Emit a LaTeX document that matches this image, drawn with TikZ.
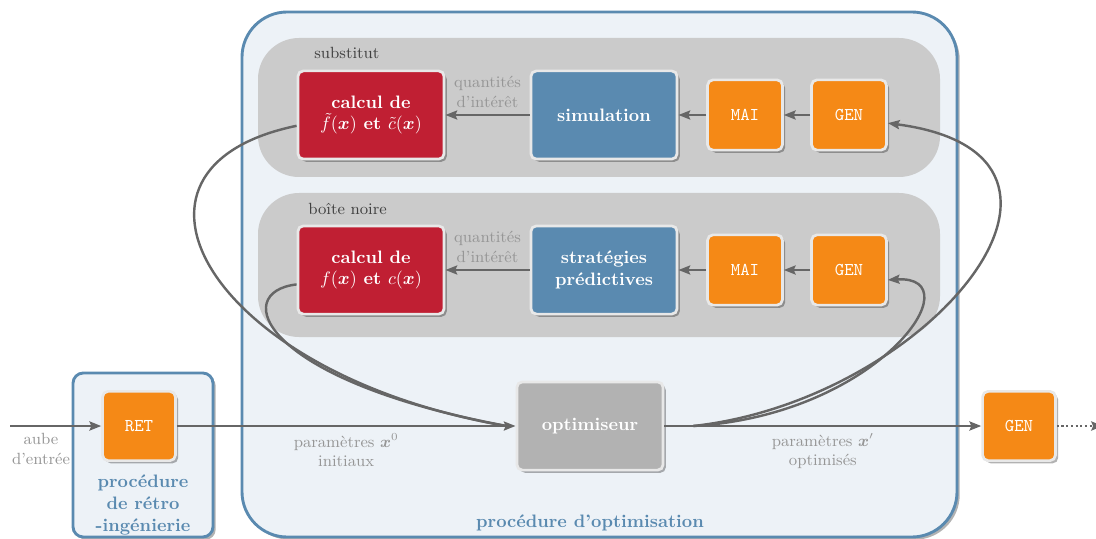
\documentclass[tikz,border=0pt]{standalone}
\usepackage{bm}
\usetikzlibrary{arrows.meta,shadows}

\definecolor{rouge}{RGB}{192,31,51}
\definecolor{bleu}{RGB}{90,138,176}
\definecolor{orangeb}{RGB}{245,137,22}
\definecolor{optgris}{RGB}{178,178,178}
\definecolor{panelgris}{RGB}{203,203,203}
\definecolor{fondbleu}{RGB}{237,242,247}
\definecolor{flgris}{RGB}{102,102,102}
\definecolor{lblgris}{RGB}{150,150,150}

\begin{document}
\begin{tikzpicture}[
x=0.0195cm, y=-0.0195cm,
>={Stealth[length=6.5pt,width=5pt,inset=1pt]},
thing/.style={rectangle,rounded corners=3pt,draw=black!9,line width=1.5pt,
  text=white,font=\bfseries,align=center,
  minimum width=2.85cm,minimum height=1.72cm,
  drop shadow={shadow xshift=1.5pt,shadow yshift=-1.5pt,fill=black,opacity=.3}},
small/.style={thing,font=\ttfamily,minimum width=1.46cm,minimum height=1.37cm},
line/.style={draw,color=flgris,line width=1.35pt,->},
curve/.style={draw,color=flgris,line width=1.35pt},
lbl/.style={text=lblgris,font=\small,align=center},
panel/.style={fill=panelgris,rounded corners=0.8cm},
frame/.style={draw=bleu,fill=fondbleu,line width=1.6pt,
  drop shadow={shadow xshift=1.5pt,shadow yshift=-1.5pt,fill=black,opacity=.3}},
titre/.style={text=bleu,font=\bfseries,align=center}
]
\useasboundingbox (0,0) rectangle (1096,539);

% cadres
\path[frame,rounded corners=0.88cm] (242,12) rectangle (957,537);
\path[frame,rounded corners=0.2cm] (73,373) rectangle (213,537);
\path[panel] (258,38) rectangle (940,177);
\path[panel] (258,193) rectangle (940,337);

\node[anchor=west,font=\small,text=black!75] (l1) at (308,53) {substitut};
\node[anchor=west,font=\small,text=black!75] (l2) at (302,209) {boîte noire};

% substitut
\node[thing,fill=rouge] (s1) at (371,115) {calcul de\\$\tilde{f}(\bm{x})$ et $\tilde{c}(\bm{x})$};
\node[thing,fill=bleu] (s2) at (604,115) {simulation};
\node[small,fill=orangeb] (s3) at (745,115) {MAI};
\node[small,fill=orangeb] (s4) at (849,115) {GEN};

% boite noire
\node[thing,fill=rouge] (b1) at (371,270) {calcul de\\$f(\bm{x})$ et $c(\bm{x})$};
\node[thing,fill=bleu] (b2) at (604,270) {stratégies\\prédictives};
\node[small,fill=orangeb] (b3) at (745,270) {MAI};
\node[small,fill=orangeb] (b4) at (849,270) {GEN};

% chaine principale
\node[small,fill=orangeb,minimum width=1.42cm,minimum height=1.35cm] (ret) at (139,426) {RET};
\node[thing,fill=optgris] (opt) at (590,426) {optimiseur};
\node[small,fill=orangeb,minimum width=1.42cm,minimum height=1.35cm] (gen) at (1019,426) {GEN};

\coordinate (in) at (10,426);
\coordinate (fin) at (1103,426);
\coordinate (split) at ([xshift=16pt]opt.east);

\node[titre] (t1) at (590,523) {procédure d’optimisation};
\node[titre] (t2) at (143,505) {procédure\\de rétro\\-ingénierie};

\path[line] (s4) -- (s3);
\path[line] (s3) -- (s2);
\path[line] (s2) -- node[lbl,above] {quantités\\d’intérêt} (s1);
\path[line] (b4) -- (b3);
\path[line] (b3) -- (b2);
\path[line] (b2) -- node[lbl,above] {quantités\\d’intérêt} (b1);

\path[line] (in) -- node[lbl,below,pos=0.34] {aube\\d’entrée} (ret);
\path[line] (ret) -- node[lbl,below] {paramètres $\bm{x}^0$\\initiaux} (opt);
\path[line] (opt) -- node[lbl,below] {paramètres $\bm{x}'$\\optimisés} (gen);
\path[line,dash pattern=on 1.2pt off 1.4pt] (gen) -- (fin);

\path[curve] ([yshift=-6pt]s1.west) .. controls (92,168) and (210,375) .. ([xshift=-5pt]opt.west);
\path[curve] ([yshift=-8pt]b1.west) .. controls (230,292) and (260,380) .. ([xshift=-5pt]opt.west);
\path[line] (split) .. controls (930,400) and (1130,155) .. ([yshift=-4.5pt]s4.east);
\path[line] (split) .. controls (880,415) and (975,275) .. ([yshift=-5.5pt]b4.east);

\end{tikzpicture}
\end{document}
